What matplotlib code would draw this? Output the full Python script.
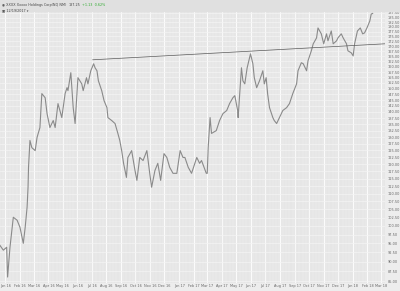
import numpy as np
import matplotlib
matplotlib.use("Agg")
import matplotlib.pyplot as plt
import matplotlib.dates as mdates
from matplotlib.ticker import FixedLocator, NullLocator, NullFormatter

# price trace (close values, roughly every few sessions)
dates = [
    '2015-12-21', '2015-12-28', '2016-01-04', '2016-01-06', '2016-01-11', '2016-01-18',
    '2016-01-26', '2016-02-01', '2016-02-08', '2016-02-12', '2016-02-16', '2016-02-18',
    '2016-02-19', '2016-02-22', '2016-02-26', '2016-03-04', '2016-03-08', '2016-03-14',
    '2016-03-18', '2016-03-25', '2016-03-29', '2016-04-04', '2016-04-11', '2016-04-15',
    '2016-04-21', '2016-04-29', '2016-05-06', '2016-05-10', '2016-05-12', '2016-05-18',
    '2016-05-23', '2016-05-27', '2016-06-02', '2016-06-10', '2016-06-13', '2016-06-20',
    '2016-06-23', '2016-06-29', '2016-07-05', '2016-07-08', '2016-07-12', '2016-07-15',
    '2016-07-22', '2016-07-27', '2016-08-02', '2016-08-04', '2016-08-12', '2016-08-19',
    '2016-08-25', '2016-08-29', '2016-09-02', '2016-09-06', '2016-09-12', '2016-09-15',
    '2016-09-23', '2016-09-30', '2016-10-04', '2016-10-10', '2016-10-17', '2016-10-25',
    '2016-10-31', '2016-11-04', '2016-11-11', '2016-11-17', '2016-11-23', '2016-11-30',
    '2016-12-06', '2016-12-12', '2016-12-19', '2016-12-27', '2017-01-03', '2017-01-09',
    '2017-01-13', '2017-01-20', '2017-01-27', '2017-02-07', '2017-02-13', '2017-02-17',
    '2017-02-27', '2017-03-01', '2017-03-03', '2017-03-07', '2017-03-10', '2017-03-20',
    '2017-03-27', '2017-04-03', '2017-04-11', '2017-04-17', '2017-04-24', '2017-04-28',
    '2017-05-04', '2017-05-05', '2017-05-12', '2017-05-15', '2017-05-19', '2017-05-24',
    '2017-05-31', '2017-06-05', '2017-06-08', '2017-06-13', '2017-06-19', '2017-06-26',
    '2017-06-29', '2017-07-03', '2017-07-06', '2017-07-10', '2017-07-17', '2017-07-20',
    '2017-07-25', '2017-07-31', '2017-08-07', '2017-08-15', '2017-08-21', '2017-08-28',
    '2017-09-05', '2017-09-08', '2017-09-15', '2017-09-19', '2017-09-26', '2017-09-29',
    '2017-10-06', '2017-10-10', '2017-10-17', '2017-10-20', '2017-10-27', '2017-11-01',
    '2017-11-07', '2017-11-10', '2017-11-17', '2017-11-21', '2017-11-28', '2017-12-01',
    '2017-12-08', '2017-12-12', '2017-12-19', '2017-12-22', '2017-12-29', '2018-01-02',
    '2018-01-05', '2018-01-11', '2018-01-17', '2018-01-22', '2018-01-26', '2018-01-31',
    '2018-02-06', '2018-02-09', '2018-02-12',
]
close = [
    94.4, 93.1, 93.9, 86.0, 93.9, 102.6,
    101.7, 99.6, 95.0, 99.6, 105.7, 112.1,
    118.9, 128.7, 126.0, 124.9, 129.9, 133.7,
    147.8, 146.0, 139.3, 133.7, 136.5, 133.7,
    143.5, 137.7, 147.8, 150.4, 149.1, 157.2,
    141.8, 135.3, 154.9, 152.1, 149.1, 154.9,
    152.1, 158.1, 161.4, 159.5, 158.1, 153.5,
    149.1, 144.7, 141.8, 137.7, 136.5, 135.3,
    131.4, 128.7, 124.9, 120.3, 115.4, 122.4,
    124.9, 117.8, 114.4, 122.4, 121.3, 124.9,
    116.8, 112.1, 117.8, 120.3, 114.4, 123.8,
    122.4, 118.9, 116.8, 116.8, 124.9, 122.4,
    122.4, 118.9, 116.8, 122.4, 120.3, 121.3,
    116.8, 116.8, 126.0, 137.7, 131.4, 132.5,
    136.5, 139.3, 140.6, 143.5, 146.0, 146.9,
    140.6, 137.7, 159.5, 153.5, 152.1, 159.5,
    166.2, 161.4, 154.9, 150.4, 153.5, 158.1,
    152.1, 154.9, 147.8, 141.8, 137.7, 136.5,
    135.3, 137.7, 140.6, 141.8, 143.5, 147.8,
    152.1, 158.1, 161.9, 161.4, 158.1, 162.8,
    167.7, 171.2, 174.2, 179.4, 176.3, 171.2,
    176.3, 172.7, 177.8, 171.2, 172.7, 174.2,
    176.3, 174.2, 171.2, 167.7, 166.7, 165.2,
    171.2, 177.8, 179.4, 176.3, 176.8, 179.4,
    183.1, 186.9, 187.25,
]

# resistance line
trend_dates = ['2016-07-03', '2018-03-10']
trend_vals = [163.3, 171.2]

y_ticks = [85 + 2.5 * i for i in range(42)]
x_range = ['2015-12-21', '2018-03-10']
y_range = [84.5, 188.6]

d = np.array(dates, dtype='datetime64[D]')
td = np.array(trend_dates, dtype='datetime64[D]')
xr = np.array(x_range, dtype='datetime64[D]')

fig = plt.figure(figsize=(4, 2.91), dpi=100, facecolor='#ededed')
fig.patches.append(plt.Rectangle((0, 1 - 11 / 291), 1, 11 / 291, transform=fig.transFigure,
                                 color='#e0e0e0', zorder=0))

ax = fig.add_axes([0.0, 8 / 291, 385 / 400, 272 / 291])
ax.set_facecolor('#e6e6e6')
ax.set_yscale('log')
ax.set_ylim(*y_range)
ax.set_xlim(xr[0], xr[1])

ax.yaxis.set_major_locator(FixedLocator(y_ticks))
ax.yaxis.set_minor_locator(NullLocator())
ax.yaxis.set_minor_formatter(NullFormatter())
ax.set_yticklabels(['%.2f' % v for v in y_ticks])
ax.yaxis.tick_right()
ax.tick_params(axis='y', length=0, labelsize=2.5, labelcolor='#666666', pad=2)

ax.xaxis.set_major_locator(mdates.MonthLocator())
ax.xaxis.set_major_formatter(mdates.DateFormatter('%b %y'))
ax.xaxis.set_minor_locator(mdates.WeekdayLocator(byweekday=mdates.MO))
ax.tick_params(axis='x', which='both', length=0, labelsize=2.5, labelcolor='#666666', pad=1)

ax.grid(True, which='major', axis='x', color='#fbfbfb', lw=0.8)
ax.grid(True, which='major', axis='y', color='#f4f4f4', lw=0.5)
ax.grid(True, which='minor', axis='x', color='#efefef', lw=0.35)
ax.set_axisbelow(True)
for s in ax.spines.values():
    s.set_visible(False)

ax.plot(d, close, color='#8a8a8a', lw=0.8)
ax.plot(td, trend_vals, color='#5a5a5a', lw=0.5)

fig.text(0.005, 0.988, '\u25c9 XXXX Xxxxx Holdings Corp(NQ NM)', fontsize=2.4,
         color='#444444', va='top')
fig.text(0.172, 0.988, '187.25', fontsize=2.4, color='#444444', va='top')
fig.text(0.205, 0.988, '+1.13  0.62%', fontsize=2.4, color='#2eaa2e', va='top')
fig.text(0.005, 0.97, '\u25a3 12/19/2017 \u25be', fontsize=2.4, color='#444444', va='top')

fig.savefig('out.png', dpi=100, facecolor=fig.get_facecolor())
